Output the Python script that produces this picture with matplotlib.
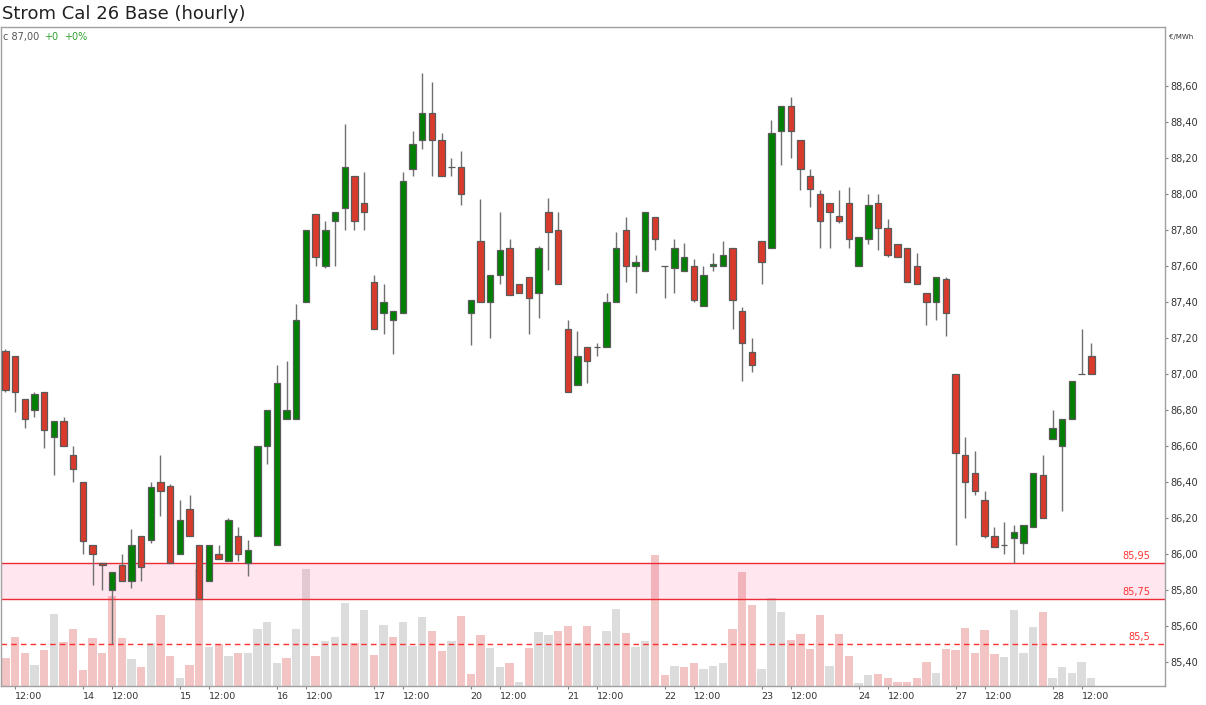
import matplotlib
matplotlib.use('Agg')
import matplotlib.pyplot as plt
from matplotlib.ticker import FixedLocator, FuncFormatter

TITLE = 'Strom Cal 26 Base (hourly)'
UNIT = '€/MWh'

# hourly OHLC, 10 bars per trading day (first bar = day 13, 11:00)
opens = [87.13, 87.10, 86.86, 86.80, 86.90, 86.65, 86.74, 86.55, 86.40, 86.05,
         85.95, 85.80, 85.94, 85.85, 86.10, 86.08, 86.40, 86.38, 86.00, 86.25,
         86.05, 85.85, 86.00, 85.96, 86.10, 85.95, 86.10, 86.60, 86.05, 86.75,
         86.75, 87.40, 87.89, 87.60, 87.85, 87.92, 88.10, 87.95, 87.51, 87.34,
         87.30, 87.34, 88.14, 88.30, 88.45, 88.30, 88.15, 88.15, 87.34, 87.74,
         87.40, 87.55, 87.70, 87.50, 87.54, 87.45, 87.90, 87.80, 87.25, 86.94,
         87.15, 87.15, 87.15, 87.40, 87.80, 87.60, 87.57, 87.87, 87.60, 87.59,
         87.57, 87.60, 87.38, 87.60, 87.60, 87.70, 87.35, 87.12, 87.74, 87.70,
         88.35, 88.49, 88.30, 88.10, 88.00, 87.95, 87.88, 87.95, 87.60, 87.75,
         87.95, 87.81, 87.72, 87.70, 87.60, 87.45, 87.40, 87.53, 87.00, 86.55,
         86.45, 86.30, 86.10, 86.05, 86.09, 86.06, 86.15, 86.44, 86.64, 86.60,
         86.75, 87.00, 87.10]
highs = [87.14, 87.10, 86.86, 86.90, 86.90, 86.74, 86.76, 86.60, 86.40, 86.05,
         85.95, 85.90, 86.00, 86.14, 86.10, 86.40, 86.55, 86.39, 86.30, 86.33,
         86.05, 86.05, 86.05, 86.20, 86.15, 86.08, 86.60, 86.80, 87.05, 87.07,
         87.39, 87.80, 87.89, 87.85, 87.90, 88.39, 88.10, 88.12, 87.55, 87.50,
         87.35, 88.12, 88.35, 88.67, 88.62, 88.34, 88.20, 88.24, 87.41, 87.97,
         87.55, 87.90, 87.75, 87.50, 87.54, 87.71, 87.98, 87.90, 87.30, 87.24,
         87.15, 87.17, 87.45, 87.79, 87.87, 87.66, 87.90, 87.87, 87.60, 87.75,
         87.73, 87.64, 87.60, 87.67, 87.74, 87.70, 87.37, 87.20, 87.74, 88.41,
         88.49, 88.54, 88.30, 88.14, 88.02, 87.95, 88.02, 88.04, 87.76, 88.00,
         88.00, 87.86, 87.72, 87.70, 87.67, 87.45, 87.54, 87.54, 87.00, 86.65,
         86.57, 86.35, 86.15, 86.18, 86.16, 86.16, 86.45, 86.55, 86.80, 86.75,
         86.96, 87.25, 87.17]
lows = [86.90, 86.79, 86.70, 86.76, 86.59, 86.44, 86.60, 86.40, 86.00, 85.83,
        85.80, 85.50, 85.85, 85.81, 85.85, 86.06, 86.21, 85.95, 86.00, 86.10,
        85.75, 85.85, 85.97, 85.96, 85.96, 85.88, 86.10, 86.50, 86.05, 86.75,
        86.75, 87.40, 87.60, 87.59, 87.60, 87.80, 87.80, 87.80, 87.25, 87.22,
        87.11, 87.34, 88.10, 88.25, 88.10, 88.10, 88.10, 87.94, 87.16, 87.40,
        87.20, 87.50, 87.44, 87.45, 87.22, 87.31, 87.58, 87.50, 86.90, 86.94,
        86.95, 87.10, 87.15, 87.40, 87.51, 87.45, 87.57, 87.69, 87.42, 87.45,
        87.57, 87.40, 87.38, 87.57, 87.60, 87.25, 86.96, 87.01, 87.50, 87.70,
        88.16, 88.20, 88.02, 87.93, 87.70, 87.70, 87.84, 87.70, 87.60, 87.72,
        87.69, 87.65, 87.65, 87.51, 87.50, 87.27, 87.30, 87.21, 86.05, 86.20,
        86.33, 86.09, 86.04, 86.00, 85.95, 86.00, 86.15, 86.20, 86.64, 86.24,
        86.75, 87.00, 87.00]
closes = [86.91, 86.90, 86.75, 86.89, 86.69, 86.74, 86.60, 86.47, 86.07, 86.00,
          85.94, 85.90, 85.85, 86.05, 85.93, 86.37, 86.35, 85.95, 86.19, 86.10,
          85.75, 86.05, 85.97, 86.19, 86.00, 86.02, 86.60, 86.80, 86.95, 86.80,
          87.30, 87.80, 87.65, 87.80, 87.90, 88.15, 87.85, 87.90, 87.25, 87.40,
          87.35, 88.07, 88.28, 88.45, 88.30, 88.10, 88.15, 88.00, 87.41, 87.40,
          87.55, 87.69, 87.44, 87.45, 87.42, 87.70, 87.79, 87.50, 86.90, 87.10,
          87.07, 87.15, 87.40, 87.70, 87.60, 87.62, 87.90, 87.75, 87.60, 87.70,
          87.65, 87.41, 87.55, 87.61, 87.66, 87.41, 87.17, 87.05, 87.62, 88.34,
          88.49, 88.35, 88.14, 88.03, 87.85, 87.90, 87.85, 87.75, 87.76, 87.94,
          87.81, 87.66, 87.65, 87.51, 87.50, 87.40, 87.54, 87.34, 86.56, 86.40,
          86.35, 86.10, 86.04, 86.05, 86.12, 86.16, 86.45, 86.20, 86.70, 86.75,
          86.96, 87.00, 87.00]
volumes = [28, 49, 33, 21, 36, 72, 44, 57, 16, 48,
           33, 90, 48, 27, 19, 43, 71, 30, 8, 21,
           117, 39, 42, 30, 33, 33, 57, 64, 23, 28,
           57, 117, 30, 45, 49, 83, 43, 76, 31, 61,
           49, 64, 40, 69, 55, 35, 45, 70, 12, 51,
           38, 19, 23, 4, 38, 54, 51, 55, 60, 43,
           60, 42, 55, 77, 53, 39, 45, 131, 11, 20,
           19, 23, 17, 20, 23, 57, 114, 81, 17, 88,
           74, 46, 52, 37, 71, 20, 52, 30, 3, 11,
           12, 8, 4, 4, 8, 24, 13, 37, 36, 58,
           33, 56, 32, 29, 76, 33, 59, 74, 8, 19,
           13, 24, 8]

day_labels = ['14', '15', '16', '17', '20', '21', '22', '23', '24', '27', '28']
zone_low, zone_high = 85.75, 85.95
alert_level = 85.5

GREEN = '#008000'
RED = '#d93a2b'
VOL_UP = '#dcdcdc'
VOL_DOWN = '#f2c4c4'
LEVEL_RED = '#ee2b35'
TEXT = '#333333'
FRAME = '#a0a0a0'

BARS_PER_DAY = 10
FIRST_DAY_START = 8   # index of first bar of day 14
NOON_OFFSET = 3       # 12:00 bar within a day


def de_fmt(v, nd=2):
    return f'{v:.{nd}f}'.replace('.', ',')


def draw_volume(ax_vol, xs):
    colors = []
    for i, c in enumerate(closes):
        prev = opens[0] if i == 0 else closes[i - 1]
        colors.append(VOL_UP if c >= prev else VOL_DOWN)
    ax_vol.bar(xs, volumes, width=0.86, color=colors, linewidth=0)
    ax_vol.set_ylim(0, 659)
    ax_vol.set_yticks([])
    for s in ax_vol.spines.values():
        s.set_visible(False)


def draw_candles(ax, xs):
    ax.vlines(xs, lows, highs, color='#707070', linewidth=1.0, zorder=3)
    bottoms = [min(o, c) for o, c in zip(opens, closes)]
    heights = [abs(c - o) for o, c in zip(opens, closes)]
    colors = [GREEN if c > o else RED for o, c in zip(opens, closes)]
    ax.bar(xs, heights, bottom=bottoms, width=0.66, color=colors,
           edgecolor='#5a5a5a', linewidth=0.9, zorder=4)


def draw_levels(ax):
    ax.axhspan(zone_low, zone_high, color=(1.0, 0.345, 0.58), alpha=0.15,
               linewidth=0, zorder=2)
    for lv in (zone_low, zone_high):
        ax.axhline(lv, color=LEVEL_RED, linewidth=1.0, zorder=2.5)
    ax.axhline(alert_level, color='#ff3030', linewidth=1.0,
               linestyle=(0, (4, 3)), zorder=2.5)
    tr = ax.get_yaxis_transform()
    for lv, txt in ((zone_high, de_fmt(zone_high)), (zone_low, de_fmt(zone_low)),
                    (alert_level, de_fmt(alert_level, 1))):
        ax.text(0.9875, lv + 0.012, txt, transform=tr, ha='right', va='bottom',
                color='#ff3333', fontsize=7)


def set_axes(ax, n):
    ax.set_xlim(-0.45, 119.6)
    ax.set_ylim(85.267, 88.928)

    ax.yaxis.tick_right()
    ax.yaxis.set_major_locator(FixedLocator([85.4 + 0.2 * k for k in range(17)]))
    ax.yaxis.set_major_formatter(FuncFormatter(lambda v, p: de_fmt(v)))
    ax.tick_params(axis='y', direction='out', length=2.5, width=0.8,
                   color='#808080', labelcolor=TEXT, labelsize=7, pad=1.5)

    day_pos = [FIRST_DAY_START + BARS_PER_DAY * k for k in range(len(day_labels))]
    noon_pos = [p for p in range(FIRST_DAY_START + NOON_OFFSET - BARS_PER_DAY, n,
                                 BARS_PER_DAY)]
    ticks = sorted(day_pos + noon_pos)
    labels = [day_labels[day_pos.index(t)] if t in day_pos else '12:00' for t in ticks]
    ax.set_xticks(ticks)
    ax.set_xticklabels(labels, ha='left')
    ax.tick_params(axis='x', direction='out', length=2.5, width=0.8,
                   color='#808080', labelcolor=TEXT, labelsize=6.8, pad=1.5)

    for s in ax.spines.values():
        s.set_color(FRAME)
        s.set_linewidth(1.0)


def main():
    n = len(closes)
    xs = list(range(n))

    fig = plt.figure(figsize=(12.06, 7.05), dpi=100)
    rect = [1 / 1206, 19 / 705, 1164 / 1206, 659 / 705]
    ax_vol = fig.add_axes(rect)
    ax = fig.add_axes(rect, sharex=ax_vol)
    ax.patch.set_visible(False)
    ax_vol.tick_params(axis='x', bottom=False, labelbottom=False)

    draw_volume(ax_vol, xs)
    draw_levels(ax)
    draw_candles(ax, xs)
    set_axes(ax, n)

    fig.text(2 / 1206, 1 - 14 / 705, TITLE, fontsize=13, color='#222222',
             ha='left', va='center')
    fig.text(1169 / 1206, 1 - 37 / 705, UNIT, fontsize=5, color=TEXT,
             ha='left', va='center')
    change = closes[-1] - closes[-2]
    fig.text(3 / 1206, 1 - 37 / 705, 'c ' + de_fmt(closes[-1]), fontsize=7,
             color='#555555', ha='left', va='center')
    fig.text(44 / 1206, 1 - 37 / 705, f'+{change:.0f}', fontsize=7,
             color='#2ca02c', ha='left', va='center')
    fig.text(64 / 1206, 1 - 37 / 705, f'+{change / closes[-2] * 100:.0f}%',
             fontsize=7, color='#2ca02c', ha='left', va='center')

    fig.savefig('out.png', dpi=100, facecolor='white')


if __name__ == '__main__':
    main()
